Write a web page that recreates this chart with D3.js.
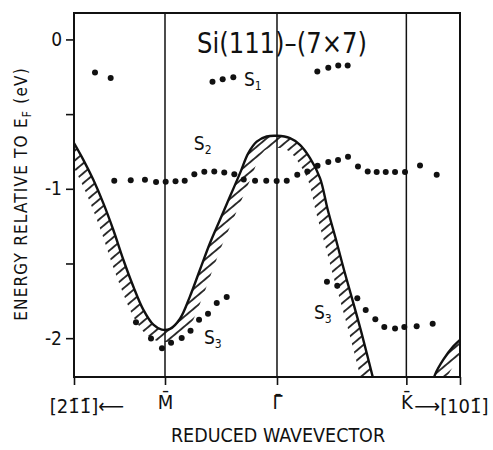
<!DOCTYPE html>
<html>
<head>
<meta charset="utf-8">
<script src="https://cdn.jsdelivr.net/npm/d3@7/dist/d3.min.js"></script>
<style>
body { margin: 0; background: #fff; }
text { font-family: "DejaVu Sans Condensed", "DejaVu Sans", sans-serif; fill: #111; }
</style>
</head>
<body>
<div id="chart"></div>
<script>
// symmetry points along the reduced wavevector (Gamma-M = 1)
var symmetryLabels = ["M\u0304", "\u0393\u0304", "K\u0304"];
var symmetryK = [-1, 0, 1.155];
var kRange = [-1.8125, 1.634];

var energyTicks = [0, -0.5, -1, -1.5, -2];
var energyRange = [-2.26, 0.177];

// upper edge of the projected bulk bands (hatched)
var bandEdgeMain = [
    [-1.8125, -0.694], [-1.729, -0.806], [-1.640, -0.940], [-1.551, -1.096],
    [-1.462, -1.274], [-1.372, -1.475], [-1.283, -1.654], [-1.194, -1.809],
    [-1.104, -1.910], [-1.029, -1.943], [-0.955, -1.938], [-0.866, -1.870],
    [-0.777, -1.720], [-0.688, -1.542], [-0.598, -1.363], [-0.509, -1.207],
    [-0.420, -1.052], [-0.330, -0.895], [-0.256, -0.761], [-0.181, -0.684],
    [-0.092, -0.650], [0, -0.645], [0.116, -0.661], [0.205, -0.706],
    [0.295, -0.795], [0.384, -0.928], [0.453, -1.140], [0.527, -1.341],
    [0.598, -1.542], [0.673, -1.742], [0.754, -1.963], [0.865, -2.290]
];
var bandEdgeCorner = [
    [1.395, -2.290], [1.411, -2.244], [1.485, -2.144], [1.574, -2.055], [1.650, -2.000]
];

// surface states
var s1 = [
    [-1.625, -0.222], [-1.485, -0.258],
    [-0.576, -0.284], [-0.485, -0.266], [-0.390, -0.253],
    [0.360, -0.215], [0.458, -0.189], [0.547, -0.175], [0.631, -0.175]
];
var s2 = [
    [-1.453, -0.946], [-1.306, -0.942], [-1.179, -0.940], [-1.080, -0.955],
    [-0.994, -0.953], [-0.906, -0.950], [-0.824, -0.946], [-0.738, -0.903],
    [-0.649, -0.886], [-0.560, -0.884], [-0.471, -0.891], [-0.381, -0.903],
    [-0.297, -0.938], [-0.196, -0.946], [-0.096, -0.946], [-0.003, -0.948],
    [0.087, -0.946], [0.181, -0.906], [0.271, -0.884], [0.362, -0.846],
    [0.458, -0.821], [0.545, -0.808], [0.634, -0.786], [0.723, -0.851],
    [0.810, -0.884], [0.890, -0.888], [0.971, -0.888], [1.054, -0.888],
    [1.143, -0.888], [1.277, -0.844], [1.426, -0.906]
];
var s3Left = [
    [-1.259, -1.894], [-1.125, -2.003], [-1.027, -2.067], [-0.946, -2.030],
    [-0.851, -1.999], [-0.772, -1.950], [-0.696, -1.876], [-0.616, -1.836],
    [-0.538, -1.765], [-0.449, -1.724]
];
var s3Right = [
    [0.446, -1.622], [0.538, -1.649], [0.717, -1.732], [0.792, -1.811],
    [0.878, -1.874], [0.958, -1.925], [1.054, -1.936], [1.137, -1.925],
    [1.247, -1.921], [1.390, -1.903]
];

// state labels: [k, E, name, subscript]
var stateLabels = [
    [-0.295, -0.310, "S", "1"],
    [-0.743, -0.740, "S", "2"],
    [-0.652, -2.040, "S", "3"],
    [0.330, -1.870, "S", "3"]
];

showChart();

function showChart() {
    var width = 493;
    var height = 450;
    var margins = { "left": 74, "right": 33, "top": 13, "bottom": 73 };

    var svg = d3.select("#chart")
                .append("svg")
                .attr("width", width)
                .attr("height", height);

    var x = d3.scaleLinear()
                .domain(kRange)
                .range([margins.left, width - margins.right]);
    var y = d3.scaleLinear()
                .domain(energyRange)
                .range([height - margins.bottom, margins.top]);

    var defs = svg.append("defs");
    defs.append("clipPath")
        .attr("id", "plot-clip")
        .append("rect")
        .attr("x", x.range()[0])
        .attr("y", y.range()[1])
        .attr("width", x.range()[1] - x.range()[0])
        .attr("height", y.range()[0] - y.range()[1]);

    defs.append("pattern")
        .attr("id", "hatch")
        .attr("patternUnits", "userSpaceOnUse")
        .attr("width", 10)
        .attr("height", 7.6)
        .attr("patternTransform", "rotate(-40)")
        .append("line")
        .attr("x1", 0).attr("y1", 3.8)
        .attr("x2", 10).attr("y2", 3.8)
        .attr("stroke", "#111")
        .attr("stroke-width", 1.7);

    var plot = svg.append("g").attr("clip-path", "url(#plot-clip)");

    // symmetry lines
    svg.selectAll("line.sym")
        .data(symmetryK)
        .enter()
        .append("line")
        .attr("class", "sym")
        .attr("x1", function (d) { return x(d); })
        .attr("x2", function (d) { return x(d); })
        .attr("y1", y.range()[1])
        .attr("y2", y.range()[0])
        .attr("stroke", "#111")
        .attr("stroke-width", 1.5);

    var line = d3.line()
                .x(function (d) { return x(d[0]); })
                .y(function (d) { return y(d[1]); })
                .curve(d3.curveCatmullRom.alpha(0.5));

    [bandEdgeMain, bandEdgeCorner].forEach(function (edge) {
        var hatch = plot.append("path");
        var curve = plot.append("path")
                        .attr("d", line(edge))
                        .attr("fill", "none")
                        .attr("stroke", "#111")
                        .attr("stroke-width", 2.4);
        hatch.attr("d", bandOutline(curve.node(), 12))
            .attr("fill", "url(#hatch)");
    });

    // surface state dots
    var allStates = s1.concat(s2, s3Left, s3Right);
    plot.selectAll("circle.dot")
        .data(allStates)
        .enter()
        .append("circle")
        .attr("class", "dot")
        .attr("cx", function (d) { return x(d[0]); })
        .attr("cy", function (d) { return y(d[1]); })
        .attr("r", 3)
        .attr("fill", "#111");

    var labels = svg.selectAll("text.state")
                    .data(stateLabels)
                    .enter()
                    .append("text")
                    .attr("class", "state")
                    .attr("x", function (d) { return x(d[0]); })
                    .attr("y", function (d) { return y(d[1]); })
                    .style("font-size", "19px");
    labels.append("tspan").text(function (d) { return d[2]; });
    labels.append("tspan")
        .attr("dy", 4)
        .style("font-size", "12px")
        .text(function (d) { return d[3]; });

    // frame
    svg.append("rect")
        .attr("x", x.range()[0])
        .attr("y", y.range()[1])
        .attr("width", x.range()[1] - x.range()[0])
        .attr("height", y.range()[0] - y.range()[1])
        .attr("fill", "none")
        .attr("stroke", "#111")
        .attr("stroke-width", 2);

    // axes
    var yAxis = d3.axisLeft(y)
                    .tickValues(energyTicks)
                    .tickSize(8)
                    .tickPadding(4)
                    .tickFormat(function (d) {
                        return Number.isInteger(d) ? String(d) : "";
                    });
    var gy = svg.append("g")
                .attr("transform", "translate(" + x.range()[0] + ",0)")
                .call(yAxis);
    gy.select(".domain").remove();
    gy.selectAll("line").attr("stroke", "#111").attr("stroke-width", 1.6);
    gy.selectAll("text")
        .style("font-size", "19px")
        .style("font-family", "'DejaVu Sans Condensed', sans-serif")
        .attr("fill", "#111");

    var xAxis = d3.axisBottom(x)
                    .tickValues(kRange.concat(symmetryK))
                    .tickSize(8)
                    .tickPadding(10)
                    .tickFormat(function (d) {
                        var i = symmetryK.indexOf(d);
                        return i < 0 ? "" : symmetryLabels[i];
                    });
    var gx = svg.append("g")
                .attr("transform", "translate(0," + y.range()[0] + ")")
                .call(xAxis);
    gx.select(".domain").remove();
    gx.selectAll("line").attr("stroke", "#111").attr("stroke-width", 1.6);
    gx.selectAll("text")
        .style("font-size", "20px")
        .style("font-family", "'DejaVu Sans Condensed', sans-serif")
        .attr("fill", "#111");

    svg.append("text")
        .attr("x", 124)
        .attr("y", 413)
        .attr("text-anchor", "end")
        .style("font-size", "20px")
        .text("[21\u03041\u0304]\u27F5");
    svg.append("text")
        .attr("x", x(symmetryK[2]) + 8)
        .attr("y", 413)
        .style("font-size", "20px")
        .text("\u27F6[101\u0304]");

    svg.append("text")
        .attr("x", 278)
        .attr("y", 442)
        .attr("text-anchor", "middle")
        .style("font-size", "19.5px")
        .text("REDUCED WAVEVECTOR");

    var ylab = svg.append("text")
                .attr("transform", "translate(27,194) rotate(-90)")
                .attr("text-anchor", "middle")
                .style("font-size", "17px")
                .style("letter-spacing", "1.2px");
    ylab.append("tspan").text("ENERGY RELATIVE TO E");
    ylab.append("tspan").attr("dy", 4).style("font-size", "12px").text("F");
    ylab.append("tspan").attr("dy", -4).text(" (eV)");

    svg.append("text")
        .attr("x", 197)
        .attr("y", 53)
        .attr("textLength", 170)
        .attr("lengthAdjust", "spacingAndGlyphs")
        .style("font-size", "29px")
        .text("Si(111)\u2013(7\u00D77)");
}

// closed outline between a curve and its copy shifted along the downward normal
function bandOutline(node, w) {
    var len = node.getTotalLength();
    var pts = [];
    for (var s = 0; s <= len; s += 1) {
        pts.push(node.getPointAtLength(s));
    }
    var inner = [];
    var outer = [];
    for (var i = 0; i < pts.length; i++) {
        var a = pts[Math.max(i - 2, 0)];
        var b = pts[Math.min(i + 2, pts.length - 1)];
        var tx = b.x - a.x, ty = b.y - a.y;
        var l = Math.sqrt(tx * tx + ty * ty) || 1;
        var nx = -ty / l, ny = tx / l;
        inner.push([pts[i].x, pts[i].y]);
        outer.push([pts[i].x + nx * w, pts[i].y + ny * w]);
    }
    return "M" + inner.concat(outer.reverse()).join("L") + "Z";
}
</script>
</body>
</html>
